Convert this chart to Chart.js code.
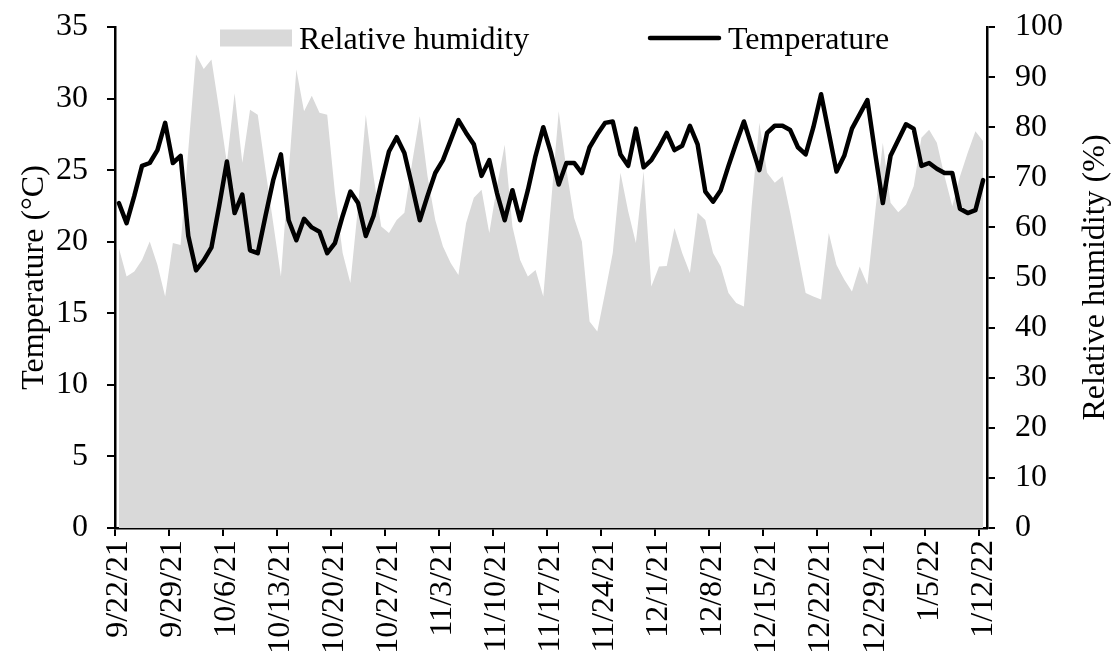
<!DOCTYPE html>
<html>
<head>
<meta charset="utf-8">
<script src="https://cdn.jsdelivr.net/npm/chart.js@4.4.1/dist/chart.umd.min.js"></script>
<style>
html,body{margin:0;padding:0;background:#fff;}
#wrap{width:1116px;height:661px;}
</style>
</head>
<body>
<div id="wrap"><canvas id="c" width="1116" height="661"></canvas></div>
<script>
const dates = [
"9/22/21","9/23/21","9/24/21","9/25/21","9/26/21","9/27/21","9/28/21","9/29/21","9/30/21",
"10/1/21","10/2/21","10/3/21","10/4/21","10/5/21","10/6/21","10/7/21","10/8/21","10/9/21","10/10/21",
"10/11/21","10/12/21","10/13/21","10/14/21","10/15/21","10/16/21","10/17/21","10/18/21","10/19/21","10/20/21",
"10/21/21","10/22/21","10/23/21","10/24/21","10/25/21","10/26/21","10/27/21","10/28/21","10/29/21","10/30/21","10/31/21",
"11/1/21","11/2/21","11/3/21","11/4/21","11/5/21","11/6/21","11/7/21","11/8/21","11/9/21","11/10/21",
"11/11/21","11/12/21","11/13/21","11/14/21","11/15/21","11/16/21","11/17/21","11/18/21","11/19/21","11/20/21",
"11/21/21","11/22/21","11/23/21","11/24/21","11/25/21","11/26/21","11/27/21","11/28/21","11/29/21","11/30/21",
"12/1/21","12/2/21","12/3/21","12/4/21","12/5/21","12/6/21","12/7/21","12/8/21","12/9/21","12/10/21",
"12/11/21","12/12/21","12/13/21","12/14/21","12/15/21","12/16/21","12/17/21","12/18/21","12/19/21","12/20/21",
"12/21/21","12/22/21","12/23/21","12/24/21","12/25/21","12/26/21","12/27/21","12/28/21","12/29/21","12/30/21","12/31/21",
"1/1/22","1/2/22","1/3/22","1/4/22","1/5/22","1/6/22","1/7/22","1/8/22","1/9/22","1/10/22","1/11/22","1/12/22"
];

const temperature = [
22.7,21.3,23.2,25.3,25.5,26.4,28.3,25.5,26.0,20.4,
18.0,18.7,19.6,22.5,25.6,22.0,23.3,19.4,19.2,21.8,
24.3,26.1,21.5,20.1,21.6,21.0,20.7,19.2,19.9,21.8,
23.5,22.7,20.4,21.8,24.1,26.3,27.3,26.2,23.9,21.5,
23.2,24.8,25.7,27.1,28.5,27.6,26.8,24.6,25.7,23.4,
21.5,23.6,21.5,23.6,26.0,28.0,26.2,24.0,25.5,25.5,
24.8,26.6,27.5,28.3,28.4,26.1,25.3,27.9,25.2,25.7,
26.6,27.6,26.4,26.7,28.1,26.8,23.5,22.8,23.6,25.3,
26.9,28.4,26.7,25.0,27.6,28.1,28.1,27.8,26.6,26.1,
28.0,30.3,27.6,24.9,26.0,27.9,28.9,29.9,26.2,22.7,
26.0,27.1,28.2,27.9,25.3,25.5,25.1,24.8,24.8,22.3,
22.0,22.2,24.3
];

const humidity = [
55.9,50.2,51.2,53.5,57.2,52.5,46.2,56.9,56.5,75.5,
94.5,91.6,93.5,83.5,72.9,86.8,72.9,83.5,82.5,71.5,
60.9,50.2,70.9,91.5,83.2,86.3,82.9,82.5,66.9,54.9,
48.9,64.2,82.5,70.2,60.2,58.9,61.5,62.9,72.9,82.2,
70.2,61.5,56.2,52.9,50.5,60.9,65.9,67.5,58.9,68.2,
76.5,60.2,53.5,50.2,51.5,46.2,64.7,83.2,71.5,61.9,
57.2,41.2,39.2,46.9,54.9,70.9,63.2,56.9,71.2,48.2,
52.2,52.3,59.9,54.9,50.9,62.9,61.5,54.9,52.2,46.9,
44.9,44.2,64.2,80.9,70.9,68.9,70.2,62.9,54.9,46.9,
46.2,45.6,58.9,52.5,49.6,47.2,52.2,48.6,62.9,76.9,
64.9,63.0,64.5,68.2,77.9,79.5,76.9,70.2,64.2,70.2,
74.9,79.2,77.2
];

const seriesNames = ["Relative humidity", "Temperature"];
const leftAxisTitle = "Temperature (°C)";
const rightAxisTitle = "Relative humidity (%)";

const FONT = '"Liberation Serif", "Times New Roman", serif';
Chart.defaults.font.family = FONT;
Chart.defaults.color = '#000';

const customDraw = {
  id: 'customDraw',
  afterDraw(chart) {
    const ctx = chart.ctx;
    const ca = chart.chartArea;
    ctx.save();
    ctx.font = '32px ' + FONT;
    ctx.fillStyle = '#000';
    ctx.textAlign = 'center';
    ctx.textBaseline = 'middle';
    ctx.translate(1096, (ca.top + ca.bottom) / 2);
    ctx.rotate(-Math.PI / 2);
    ctx.fillText(rightAxisTitle, 0, 0);
    ctx.restore();

    ctx.save();
    ctx.fillStyle = '#d9d9d9';
    ctx.fillRect(220, 29.5, 72, 17);
    ctx.fillStyle = '#000';
    ctx.font = '32px ' + FONT;
    ctx.textAlign = 'left';
    ctx.textBaseline = 'alphabetic';
    ctx.fillText(seriesNames[0], 299, 49);
    ctx.strokeStyle = '#000';
    ctx.lineWidth = 4.5;
    ctx.lineCap = 'round';
    ctx.beginPath();
    ctx.moveTo(650, 38);
    ctx.lineTo(719, 38);
    ctx.stroke();
    ctx.fillText(seriesNames[1], 728, 49);
    ctx.restore();
  }
};

const noPad = (s) => { s.paddingTop = 0; s.paddingBottom = 0; s.paddingLeft = 0; s.paddingRight = 0; };

new Chart(document.getElementById('c'), {
  type: 'line',
  data: {
    labels: dates,
    datasets: [
      {
        label: seriesNames[1],
        data: temperature,
        yAxisID: 'y',
        borderColor: '#000',
        borderWidth: 4.5,
        borderJoinStyle: 'round',
        borderCapStyle: 'round',
        pointRadius: 0,
        tension: 0,
        fill: false,
        order: 1
      },
      {
        label: seriesNames[0],
        data: humidity,
        yAxisID: 'y1',
        borderWidth: 0,
        borderColor: 'rgba(0,0,0,0)',
        backgroundColor: '#d9d9d9',
        pointRadius: 0,
        tension: 0,
        fill: 'origin',
        order: 2
      }
    ]
  },
  options: {
    responsive: false,
    animation: false,
    devicePixelRatio: 1,
    layout: { padding: { top: 27, left: 0, right: 0, bottom: 0 } },
    plugins: { legend: { display: false }, tooltip: { enabled: false } },
    scales: {
      x: {
        type: 'category',
        offset: true,
        z: 1,
        border: { display: true, color: '#000', width: 2.5 },
        grid: {
          offset: true,
          drawOnChartArea: false,
          drawTicks: true,
          tickLength: 8,
          lineWidth: 2,
          color: (ctx) => (ctx.index !== undefined && ctx.index % 7 === 0) ? '#000' : 'rgba(0,0,0,0)'
        },
        ticks: {
          autoSkip: false,
          maxRotation: 90,
          minRotation: 90,
          padding: 4,
          color: '#000',
          font: { size: 32 },
          callback: (v, i) => (i % 7 === 0 ? dates[i] : '')
        },
        afterFit: (s) => { s.height = 133; noPad(s); }
      },
      y: {
        position: 'left',
        min: 0,
        max: 35,
        z: 1,
        border: { display: true, color: '#000', width: 2.5 },
        grid: { drawOnChartArea: false, drawTicks: true, tickLength: 8, lineWidth: 2, color: '#000' },
        ticks: { stepSize: 5, padding: 19, color: '#000', font: { size: 32 } },
        title: { display: true, text: leftAxisTitle, color: '#000', font: { size: 32 }, padding: { top: 15, bottom: 0 } },
        afterFit: (s) => { s.width = 115; noPad(s); }
      },
      y1: {
        position: 'right',
        min: 0,
        max: 100,
        z: 1,
        border: { display: true, color: '#000', width: 2.5 },
        grid: { drawOnChartArea: false, drawTicks: true, tickLength: 8, lineWidth: 2, color: '#000' },
        ticks: { stepSize: 10, padding: 20, color: '#000', font: { size: 32 } },
        afterFit: (s) => { s.width = 129; noPad(s); }
      }
    }
  },
  plugins: [customDraw]
});
</script>
</body>
</html>
